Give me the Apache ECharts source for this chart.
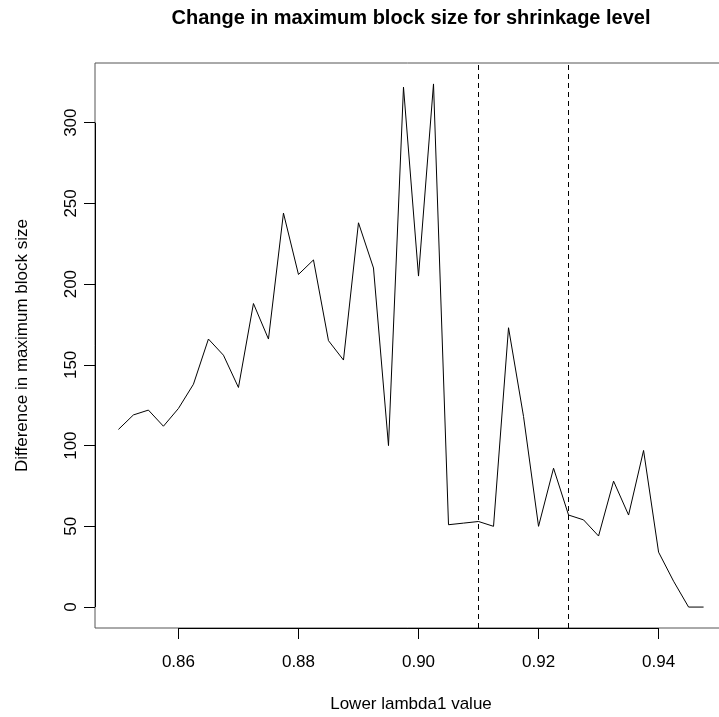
<!DOCTYPE html>
<html>
<head>
<meta charset="utf-8">
<script src="https://cdn.jsdelivr.net/npm/echarts@6/dist/echarts.min.js"></script>
<style>
  html, body { margin: 0; padding: 0; background: #fff; overflow: hidden; }
  #chart { width: 719px; height: 717px; }
</style>
</head>
<body>
<div id="chart"></div>
<script>
// Lower lambda1 values (step 0.0025)
const lambdaValues = [
  0.8500, 0.8525, 0.8550, 0.8575, 0.8600, 0.8625, 0.8650, 0.8675, 0.8700, 0.8725,
  0.8750, 0.8775, 0.8800, 0.8825, 0.8850, 0.8875, 0.8900, 0.8925, 0.8950, 0.8975,
  0.9000, 0.9025, 0.9050, 0.9075, 0.9100, 0.9125, 0.9150, 0.9175, 0.9200, 0.9225,
  0.9250, 0.9275, 0.9300, 0.9325, 0.9350, 0.9375, 0.9400, 0.9425, 0.9450, 0.9475
];
// Difference in maximum block size at each lambda1
const blockSizeDiff = [
  110, 119, 122, 112, 123, 138, 166, 156, 136, 188,
  166, 244, 206, 215, 165, 153, 238, 210, 100, 322,
  205, 324, 51, 52, 53, 50, 173, 118, 50, 86,
  57, 54, 44, 78, 57, 97, 34, 16, 0, 0
];
// Reference lambda1 values marked with dashed lines
const cutoffs = [0.91, 0.925];
// Axis ticks
const xTicks = [0.86, 0.88, 0.90, 0.92, 0.94];
const yTicks = [0, 50, 100, 150, 200, 250, 300];

// Axis ranges padded by 4% of the data range on each side
const xLo = Math.min(...lambdaValues), xHi = Math.max(...lambdaValues);
const yLo = Math.min(...blockSizeDiff), yHi = Math.max(...blockSizeDiff);
const xPad = (xHi - xLo) * 0.04, yPad = (yHi - yLo) * 0.04;
const xMin = xLo - xPad, xMax = xHi + xPad;
const yMin = yLo - yPad, yMax = yHi + yPad;

const FONT = '"Liberation Sans", Arial, Helvetica, sans-serif';

const chart = echarts.init(document.getElementById('chart'), null, { renderer: 'canvas' });

// Axis lines spanning only the first to last tick
const axisSegments = [
  [{ coord: [xTicks[0], yMin] }, { coord: [xTicks[xTicks.length - 1], yMin] }],
  [{ coord: [xMin, yTicks[0]] }, { coord: [xMin, yTicks[yTicks.length - 1]] }]
].map(seg => { seg[0].lineStyle = { color: '#000', width: 1, type: 'solid' }; return seg; });

const cutoffLines = cutoffs.map(v => ({
  xAxis: v,
  lineStyle: { color: '#000', width: 1, type: [5, 4] }
}));

chart.setOption({
  animation: false,
  backgroundColor: '#fff',
  title: {
    text: 'Change in maximum block size for shrinkage level',
    left: 411,
    top: 8,
    padding: 0,
    textAlign: 'center',
    textStyle: { fontFamily: FONT, fontWeight: 'bold', fontSize: 20, color: '#000' }
  },
  grid: {
    left: 95, top: 63, width: 632, bottom: 89,
    outerBoundsMode: 'none',
    containLabel: false,
    show: true, borderColor: '#555', borderWidth: 1, backgroundColor: 'transparent'
  },
  xAxis: {
    type: 'value',
    min: xMin, max: xMax,
    name: 'Lower lambda1 value',
    nameLocation: 'middle',
    nameGap: 68,
    nameTextStyle: { fontFamily: FONT, fontSize: 17, color: '#000' },
    axisLine: { show: false, onZero: false },
    axisTick: { show: true, length: 11, lineStyle: { color: '#000', width: 1 }, customValues: xTicks },
    axisLabel: {
      show: true, margin: 26, fontFamily: FONT, fontSize: 17, color: '#000',
      customValues: xTicks,
      formatter: v => v.toFixed(2)
    },
    splitLine: { show: false }
  },
  yAxis: {
    type: 'value',
    min: yMin, max: yMax,
    name: 'Difference in maximum block size',
    nameLocation: 'middle',
    nameGap: 64,
    nameTextStyle: { fontFamily: FONT, fontSize: 17, color: '#000' },
    axisLine: { show: false, onZero: false },
    axisTick: { show: true, length: 11, lineStyle: { color: '#000', width: 1 }, customValues: yTicks },
    axisLabel: {
      show: true, margin: 15, rotate: 90, fontFamily: FONT, fontSize: 17, color: '#000',
      customValues: yTicks,
      formatter: v => String(v)
    },
    splitLine: { show: false }
  },
  series: [{
    type: 'line',
    data: lambdaValues.map((x, i) => [x, blockSizeDiff[i]]),
    showSymbol: false,
    symbol: 'none',
    lineStyle: { color: '#000', width: 1 },
    clip: false,
    markLine: {
      silent: true,
      precision: 6,
      symbol: ['none', 'none'],
      label: { show: false },
      animation: false,
      data: [...cutoffLines, ...axisSegments]
    }
  }]
});
</script>
</body>
</html>
